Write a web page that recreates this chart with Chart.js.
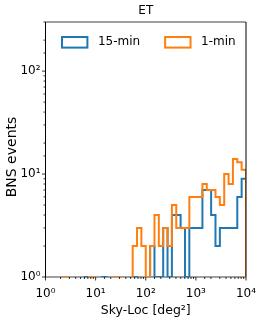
<!DOCTYPE html>
<html><head><meta charset="utf-8">
<script src="https://cdn.jsdelivr.net/npm/chart.js@4.4.0/dist/chart.umd.min.js"></script>
<style>html,body{margin:0;padding:0;background:#fff;}#wrap{width:274px;height:327px;}</style>
</head><body><div id="wrap"><canvas id="c" width="274" height="327"></canvas></div>
<script>
// ---- data ----
const chartTitle = 'ET';
const xAxisLabel = 'Sky-Loc [deg²]';
const yAxisLabel = 'BNS events';
const seriesNames = ['15-min', '1-min'];
const seriesColors = ['#1f77b4', '#ff7f0e'];
// histogram bins: 46 log-spaced bins between 10^0 and 10^4
const nBins = 46;
const binEdges = Array.from({length: nBins + 1}, (_, i) => Math.pow(10, 4 * i / nBins));
// counts per bin
const counts15min = [0,0,0,0,0,0,0,0,0,1, 0,0,0,1,0,0,0,0,0,0, 1,0,0,0,2,1,1,3,1,4, 4,3,1,3,3,3,7,7,4,2, 3,3,3,3,6,9];
const counts1min  = [0,0,0,0,1,0,0,0,0,0, 1,0,0,0,0,0,1,0,0,0, 2,3,2,1,2,4,2,3,2,5, 3,3,3,6,6,6,8,7,7,6, 5,10,8,14,13,11];
const xTickValues = [1, 10, 100, 1000, 10000];
const yTickValues = [1, 10, 100];
const xRange = [1, 10000];
const yRange = [1, 300];

// ---- rendering ----
const FONT = 'DejaVu Sans';
const SUP = {0:'⁰',1:'¹',2:'²',3:'³',4:'⁴'};
const FLOOR = 1e-3; // empty bins fall below the log axis (clipped), as in a log step histogram
function isMajor(v, list){ return list.some(t => Math.abs(t - v) / t < 1e-9); }
function decadeLabel(v, list){ return isMajor(v, list) ? '10' + SUP[Math.round(Math.log10(v))] : ''; }
function toSteps(counts){
  const pts = counts.map((c, i) => ({x: binEdges[i], y: c > 0 ? c : FLOOR}));
  pts.push({x: binEdges[nBins], y: FLOOR});
  return pts;
}
Chart.defaults.font.family = FONT;
Chart.defaults.font.size = 12;
Chart.defaults.color = '#000';

const framePlugin = {
  id: 'frame',
  beforeDatasetsDraw(chart){
    const {ctx, chartArea: a} = chart;
    ctx.save();
    ctx.strokeStyle = '#808080'; ctx.lineWidth = 1.7;
    ctx.beginPath();
    ctx.moveTo(a.left, a.top); ctx.lineTo(a.right, a.top);
    ctx.moveTo(a.left, a.bottom); ctx.lineTo(a.right, a.bottom);
    ctx.stroke();
    ctx.restore();
  },
  afterDatasetsDraw(chart){
    const {ctx, chartArea: a, scales: {x, y}} = chart;
    ctx.save();
    ctx.strokeStyle = '#000'; ctx.lineWidth = 1;
    ctx.beginPath();
    ctx.moveTo(a.left, a.top); ctx.lineTo(a.left, a.bottom);
    ctx.moveTo(a.right, a.top); ctx.lineTo(a.right, a.bottom);
    ctx.stroke();
    ctx.lineWidth = 0.8;
    ctx.beginPath();
    for (const t of x.ticks){
      const px = x.getPixelForValue(t.value);
      if (px < a.left - 0.5 || px > a.right + 0.5) continue;
      const len = isMajor(t.value, xTickValues) ? 3.5 : 2;
      ctx.moveTo(px, a.bottom); ctx.lineTo(px, a.bottom + len);
    }
    for (const t of y.ticks){
      const py = y.getPixelForValue(t.value);
      if (py < a.top - 0.5 || py > a.bottom + 0.5) continue;
      const len = isMajor(t.value, yTickValues) ? 3.5 : 2;
      ctx.moveTo(a.left - len, py); ctx.lineTo(a.left, py);
    }
    ctx.stroke();
    ctx.restore();
  }
};

const labelsPlugin = {
  id: 'insideLegendAndYLabel',
  afterDraw(chart){
    const {ctx} = chart;
    ctx.save();
    // y-axis label
    ctx.translate(16, 157);
    ctx.rotate(-Math.PI / 2);
    ctx.font = '14px "' + FONT + '"';
    ctx.textAlign = 'center';
    ctx.textBaseline = 'alphabetic';
    ctx.fillStyle = '#000';
    ctx.fillText(yAxisLabel, 0, 0);
    ctx.restore();

    ctx.save();
    ctx.font = '12px "' + FONT + '"';
    ctx.textBaseline = 'middle';
    ctx.textAlign = 'left';
    let x = 61;
    const cy = 42.3;
    chart.data.datasets.forEach(ds => {
      ctx.strokeStyle = ds.borderColor; ctx.lineWidth = 2;
      ctx.fillStyle = '#fff';
      ctx.fillRect(x + 1, cy - 5.3, 25.4, 10.6);
      ctx.strokeRect(x + 1, cy - 5.3, 25.4, 10.6);
      const tx = x + 27.4 + 9.5;
      ctx.fillStyle = '#000';
      ctx.fillText(ds.label, tx, cy);
      x = tx + ctx.measureText(ds.label).width + 24;
    });
    ctx.restore();
  }
};

new Chart(document.getElementById('c'), {
  type: 'line',
  data: {
    datasets: [
      {label: seriesNames[0], data: toSteps(counts15min), borderColor: seriesColors[0], backgroundColor: '#fff',
       borderWidth: 2, stepped: 'before', pointRadius: 0, fill: false, order: 1},
      {label: seriesNames[1], data: toSteps(counts1min), borderColor: seriesColors[1], backgroundColor: '#fff',
       borderWidth: 2, stepped: 'before', pointRadius: 0, fill: false, order: 0}
    ]
  },
  options: {
    responsive: false, animation: false, devicePixelRatio: 1,
    layout: {padding: {top: 0, right: 28, bottom: 0, left: 0}},
    plugins: {
      legend: {display: false}, tooltip: {enabled: false},
      title: {display: true, text: chartTitle, fullSize: false, color: '#000',
              font: {family: FONT, size: 12, weight: 'normal'}, padding: {top: 4.1, bottom: 3.5}}
    },
    scales: {
      x: {type: 'logarithmic', position: 'bottom', min: xRange[0], max: xRange[1],
          grid: {display: false, drawTicks: true, tickLength: 3.5}, border: {display: false},
          ticks: {autoSkip: false, maxRotation: 0, padding: 6, color: '#000', font: {family: FONT, size: 12},
                  callback: v => decadeLabel(v, xTickValues)},
          title: {display: true, text: xAxisLabel, color: '#000', font: {family: FONT, size: 12.5}, padding: {top: 0, bottom: 8.6}},
          afterFit: s => { s.height = 50; }},
      y: {type: 'logarithmic', position: 'left', min: yRange[0], max: yRange[1],
          grid: {display: false, drawTicks: true, tickLength: 3.5}, border: {display: false},
          ticks: {autoSkip: false, padding: 1.5, color: '#000', font: {family: FONT, size: 12},
                  callback: v => decadeLabel(v, yTickValues)},
          title: {display: false},
          afterFit: s => { s.width = 45.5; }}
    }
  },
  plugins: [framePlugin, labelsPlugin]
});
</script></body></html>
